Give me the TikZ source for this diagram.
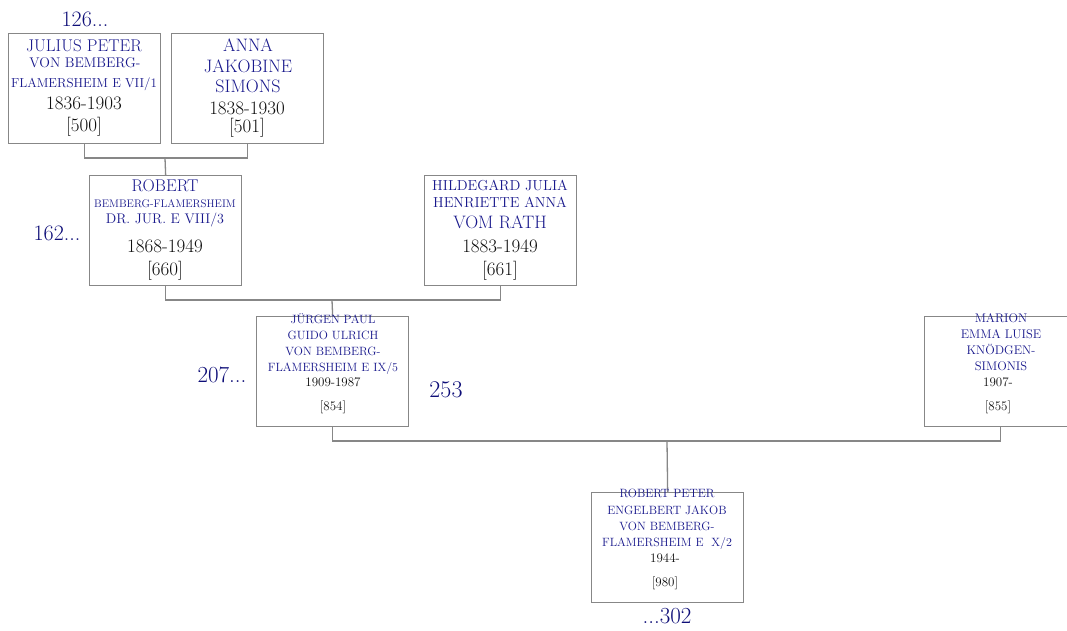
\documentclass[tikz,border=0pt]{standalone}
\usepackage{fontspec}
\definecolor{nameblue}{RGB}{24,24,140}
\definecolor{numblue}{RGB}{14,14,120}
\definecolor{boxgray}{RGB}{135,135,135}
\definecolor{yeartext}{RGB}{15,15,15}
\newcommand{\fs}[1]{\fontsize{#1}{#1}\selectfont}
\begin{document}
\begin{tikzpicture}[x=1pt,y=-1pt,
  box/.style={draw=boxgray, line width=1.3pt, minimum width=152, minimum height=110, inner sep=0, anchor=north west},
  nm/.style={text=nameblue, anchor=base, inner sep=0},
  yr/.style={text=yeartext, anchor=base, inner sep=0},
  num/.style={text=numblue, anchor=base, inner sep=0},
  link/.style={draw=boxgray, line width=1.3pt}]
\useasboundingbox (0,0) rectangle (1067,631);
\fill[white] (0,0) rectangle (1067,631);

% boxes
\node[box] (b500) at (8,33) {};
\node[box] (b501) at (171,33) {};
\node[box] (b660) at (89,175) {};
\node[box] (b661) at (424,175) {};
\node[box] (b854) at (256,316) {};
\node[box] (b855) at (924,316) {};
\node[box] (b980) at (591,492) {};

% connectors
\coordinate (j1) at (165,158);
\coordinate (j2) at (332,300);
\coordinate (j3) at (667,441);
\draw[link] (b500.south) |- (j1) -| (b501.south);
\draw[link] (j1) -- (b660.north);
\draw[link] (b660.south) |- (j2) -| (b661.south);
\draw[link] (j2) -- (b854.north);
\draw[link] (b854.south) |- (j3) -| (b855.south);
\draw[link] (j3) -- (b980.north);

% box 500
\node[nm] (t500a) at (84,52) {\fs{17}JULIUS PETER};
\node[nm] (t500b) at (85,68) {\fs{14}VON BEMBERG-};
\node[nm] (t500c) at (84,88) {\fs{13}FLAMERSHEIM E VII/1};
\node[yr] (y500) at (84,110) {\fs{19}1836-1903};
\node[yr] (i500) at (84,132) {\fs{19}[500]};

% box 501
\node[nm] (t501a) at (248,52) {\fs{18}ANNA};
\node[nm] (t501b) at (248,73) {\fs{18}JAKOBINE};
\node[nm] (t501c) at (248,93) {\fs{18}SIMONS};
\node[yr] (y501) at (247,115) {\fs{19}1838-1930};
\node[yr] (i501) at (247,133) {\fs{19}[501]};

% box 660
\node[nm] (t660a) at (165,192) {\fs{17}ROBERT};
\node[nm] (t660b) at (165,207) {\fs{11}BEMBERG-FLAMERSHEIM};
\node[nm] (t660c) at (165,223) {\fs{14}DR. JUR. E VIII/3};
\node[yr] (y660) at (165,252) {\fs{19}1868-1949};
\node[yr] (i660) at (165,275) {\fs{19}[660]};

% box 661
\node[nm] (t661a) at (500,190) {\fs{14.5}HILDEGARD JULIA};
\node[nm] (t661b) at (500,207) {\fs{14.5}HENRIETTE ANNA};
\node[nm] (t661c) at (500,228) {\fs{18}VOM RATH};
\node[yr] (y661) at (500,252) {\fs{19}1883-1949};
\node[yr] (i661) at (500,275) {\fs{19}[661]};

% box 854
\node[nm] (t854a) at (333,323) {\fs{12}JÜRGEN PAUL};
\node[nm] (t854b) at (333,339) {\fs{12}GUIDO ULRICH};
\node[nm] (t854c) at (333,355) {\fs{12}VON BEMBERG-};
\node[nm] (t854d) at (333,371) {\fs{12}FLAMERSHEIM E IX/5};
\node[yr] (y854) at (333,386) {\fs{13}1909-1987};
\node[yr] (i854) at (333,410) {\fs{13}[854]};

% box 855
\node[nm] (t855a) at (1001,322) {\fs{12.5}MARION};
\node[nm] (t855b) at (1001,338) {\fs{12.5}EMMA LUISE};
\node[nm] (t855c) at (1001,354) {\fs{12.5}KNÖDGEN-};
\node[nm] (t855d) at (1001,370) {\fs{12.5}SIMONIS};
\node[yr] (y855) at (998,386) {\fs{13}1907-};
\node[yr] (i855) at (998,410) {\fs{13}[855]};

% box 980
\node[nm] (t980a) at (667,497) {\fs{12}ROBERT PETER};
\node[nm] (t980b) at (667,514) {\fs{12}ENGELBERT JAKOB};
\node[nm] (t980c) at (667,530) {\fs{12}VON BEMBERG-};
\node[nm] (t980d) at (667,546) {\fs{12}FLAMERSHEIM E\ \ X/2};
\node[yr] (y980) at (665,562) {\fs{13}1944-};
\node[yr] (i980) at (665,586) {\fs{13}[980]};

% reference numbers
\node[num] (r126) at (85,27) {\fs{22}126...};
\node[num] (r162) at (57,240) {\fs{22}162...};
\node[num] (r207) at (222,382) {\fs{23}207...};
\node[num] (r253) at (446,397) {\fs{24}253};
\node[num] (r302) at (667,623) {\fs{23}...302};
\end{tikzpicture}
\end{document}
